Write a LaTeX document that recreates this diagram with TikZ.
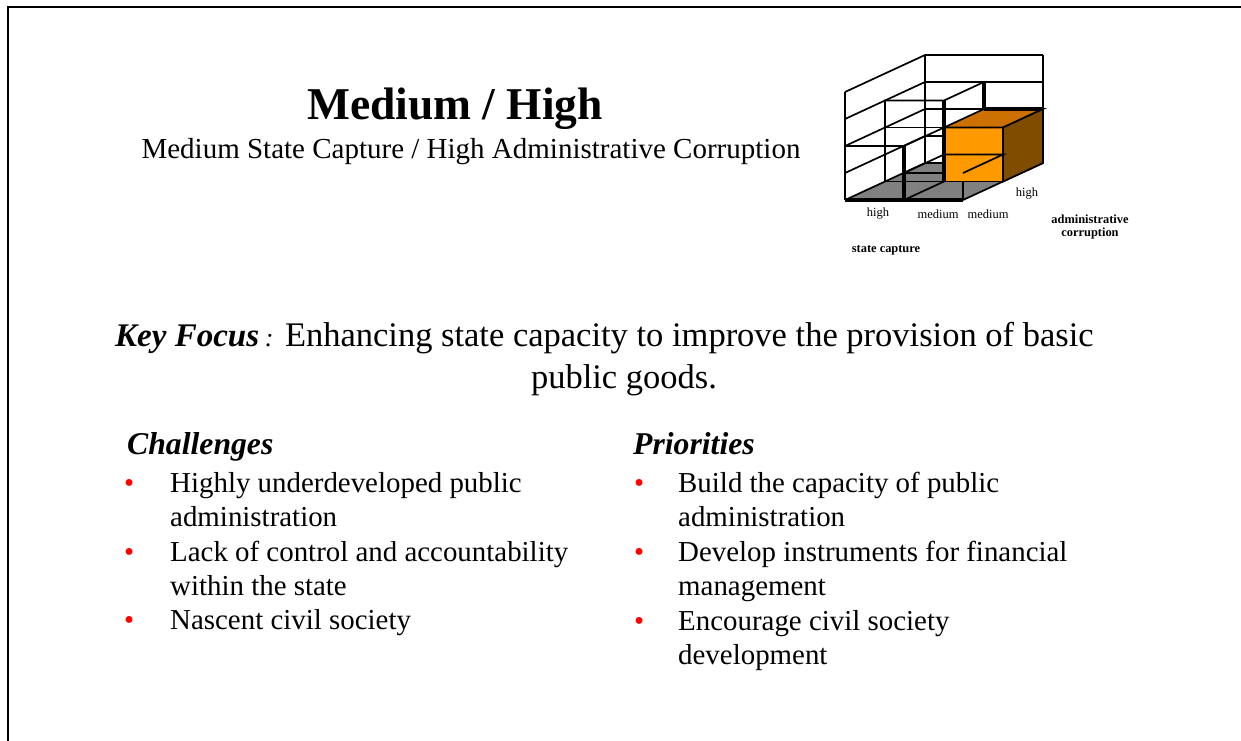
\documentclass[tikz,border=0pt]{standalone}
\usepackage{fontspec}
\setmainfont{Liberation Serif}
\definecolor{orfront}{RGB}{255,153,0}
\definecolor{ortop}{RGB}{204,112,0}
\definecolor{orside}{RGB}{128,77,0}
\definecolor{floorgray}{RGB}{128,128,128}
\definecolor{bulred}{RGB}{255,0,0}
\tikzset{
  edge/.style={line width=1.7pt},
  thickedge/.style={line width=3.2pt},
  lbl/.style={inner sep=0pt, font=\fontsize{12.5}{13}\selectfont},
  blbl/.style={inner sep=0pt, font=\bfseries\fontsize{12.4}{13}\selectfont, align=center},
  itemtxt/.style={anchor=base west, inner sep=0pt, font=\fontsize{28.9}{34}\selectfont},
  bul/.style={anchor=base west, inner sep=0pt, text=bulred, font=\fontsize{28.9}{34}\selectfont},
  head/.style={anchor=base west, inner sep=0pt, font=\bfseries\itshape\fontsize{31.7}{36}\selectfont}
}
\begin{document}
\begin{tikzpicture}[x=1pt,y=-1pt]
\useasboundingbox (0,0) rectangle (1241,740);
\clip (0,0) rectangle (1241,740);
\fill[white] (0,0) rectangle (1241,740);
\draw[line width=2pt] (8,7) rectangle (1300,800);

% cube
\begin{scope}[shift={(845pt,-200pt)}, x={(59pt,0pt)}, y={(40pt,18.5pt)}, z={(0pt,27pt)}, edge]
  \fill[floorgray] (0,0,0) -- (2,0,0) -- (2,2,0) -- (0,2,0) -- cycle;
  \foreach \h in {1,2,3,4} { \draw (0,0,\h) -- (0,2,\h) -- (2,2,\h); }
  \draw (0,0,0) -- (0,0,4);
  \draw (0,2,0) -- (0,2,4);
  \draw (2,2,2) -- (2,2,4);
  \draw (0,0,0) -- (0,2,0) -- (2,2,0);
  \draw (0,1,0) -- (2,1,0);
  \draw (1,0,0) -- (1,2,0);
  \draw (2,0,0) -- (2,2,0);
  % back-left bar
  \draw (0,1,0) -- (0,1,3) -- (1,1,3) -- (1,2,3);
  \draw[thickedge] (1,2,2) -- (1,2,3);
  % front-left bar
  \draw (0,0,2) -- (1,0,2) -- (1,1,2);
  \draw (0,1,2) -- (1,1,2);
  \draw[thickedge] (1,0,0) -- (1,0,2);
  % front-right bar
  \draw (1,0,1) -- (2,0,1) -- (2,0,0);
  \draw (1,0,1) -- (1,1,1);
  % orange bar
  \filldraw[fill=orfront] (1,1,0) -- (2,1,0) -- (2,1,2) -- (1,1,2) -- cycle;
  \filldraw[fill=ortop] (1,1,2) -- (2,1,2) -- (2,2,2) -- (1,2,2) -- cycle;
  \filldraw[fill=orside] (2,1,0) -- (2,2,0) -- (2,2,2) -- (2,1,2) -- cycle;
  \draw[thickedge] (1,2,2) -- (2,2,2);
  \draw (1,1,1) -- (2,1,1) -- (2,0,1);
  \draw[thickedge] (1,1,0) -- (1,1,3);
  \draw[thickedge] (0,0,0) -- (2,0,0);
\end{scope}

\node[lbl] (lhigh) at (878,214) {high};
\node[lbl] (lmed1) at (938,214) {medium};
\node[lbl] (lmed2) at (988,214) {medium};
\node[lbl] (lhigh2) at (1027,194) {high};
\node[blbl] (adm) at (1090,227) {administrative\\corruption};
\node[blbl] (sc) at (886,250) {state capture};

% title
\node[anchor=base, inner sep=0pt, font=\bfseries\fontsize{45.5}{50}\selectfont] (title) at (455,119) {Medium / High};
\node[anchor=base, inner sep=0pt, font=\fontsize{29}{34}\selectfont] (sub) at (471,158) {Medium State Capture / High Administrative Corruption};

% key focus
\node[anchor=base west, inner sep=0pt, font=\fontsize{34.5}{40}\selectfont] (kf1) at (115,346)
  {{\bfseries\itshape\fontsize{33}{40}\selectfont Key Focus}\,{\itshape\fontsize{26}{30}\selectfont :} Enhancing state capacity to improve the provision of basic};
\node[anchor=base, inner sep=0pt, font=\fontsize{34.5}{40}\selectfont] (kf2) at (624,388) {public goods.};

% challenges
\node[head] (ch) at (127,454) {Challenges};
\node[bul] (cb1) at (124,492.5) {•};
\node[itemtxt] (c1a) at (170,492.5) {Highly underdeveloped public};
\node[itemtxt] (c1b) at (170,526.5) {administration};
\node[bul] (cb2) at (124,561) {•};
\node[itemtxt] (c2a) at (170,561) {Lack of control and accountability};
\node[itemtxt] (c2b) at (170,595.5) {within the state};
\node[bul] (cb3) at (124,629.5) {•};
\node[itemtxt] (c3a) at (170,629.5) {Nascent civil society};

% priorities
\node[head] (pr) at (633,454) {Priorities};
\node[bul] (pb1) at (634,492.5) {•};
\node[itemtxt] (p1a) at (678,492.5) {Build the capacity of public};
\node[itemtxt] (p1b) at (678,526.5) {administration};
\node[bul] (pb2) at (634,561) {•};
\node[itemtxt] (p2a) at (678,561) {Develop instruments for financial};
\node[itemtxt] (p2b) at (678,595.5) {management};
\node[bul] (pb3) at (634,630) {•};
\node[itemtxt] (p3a) at (678,630) {Encourage civil society};
\node[itemtxt] (p3b) at (678,664.5) {development};
\end{tikzpicture}
\end{document}
